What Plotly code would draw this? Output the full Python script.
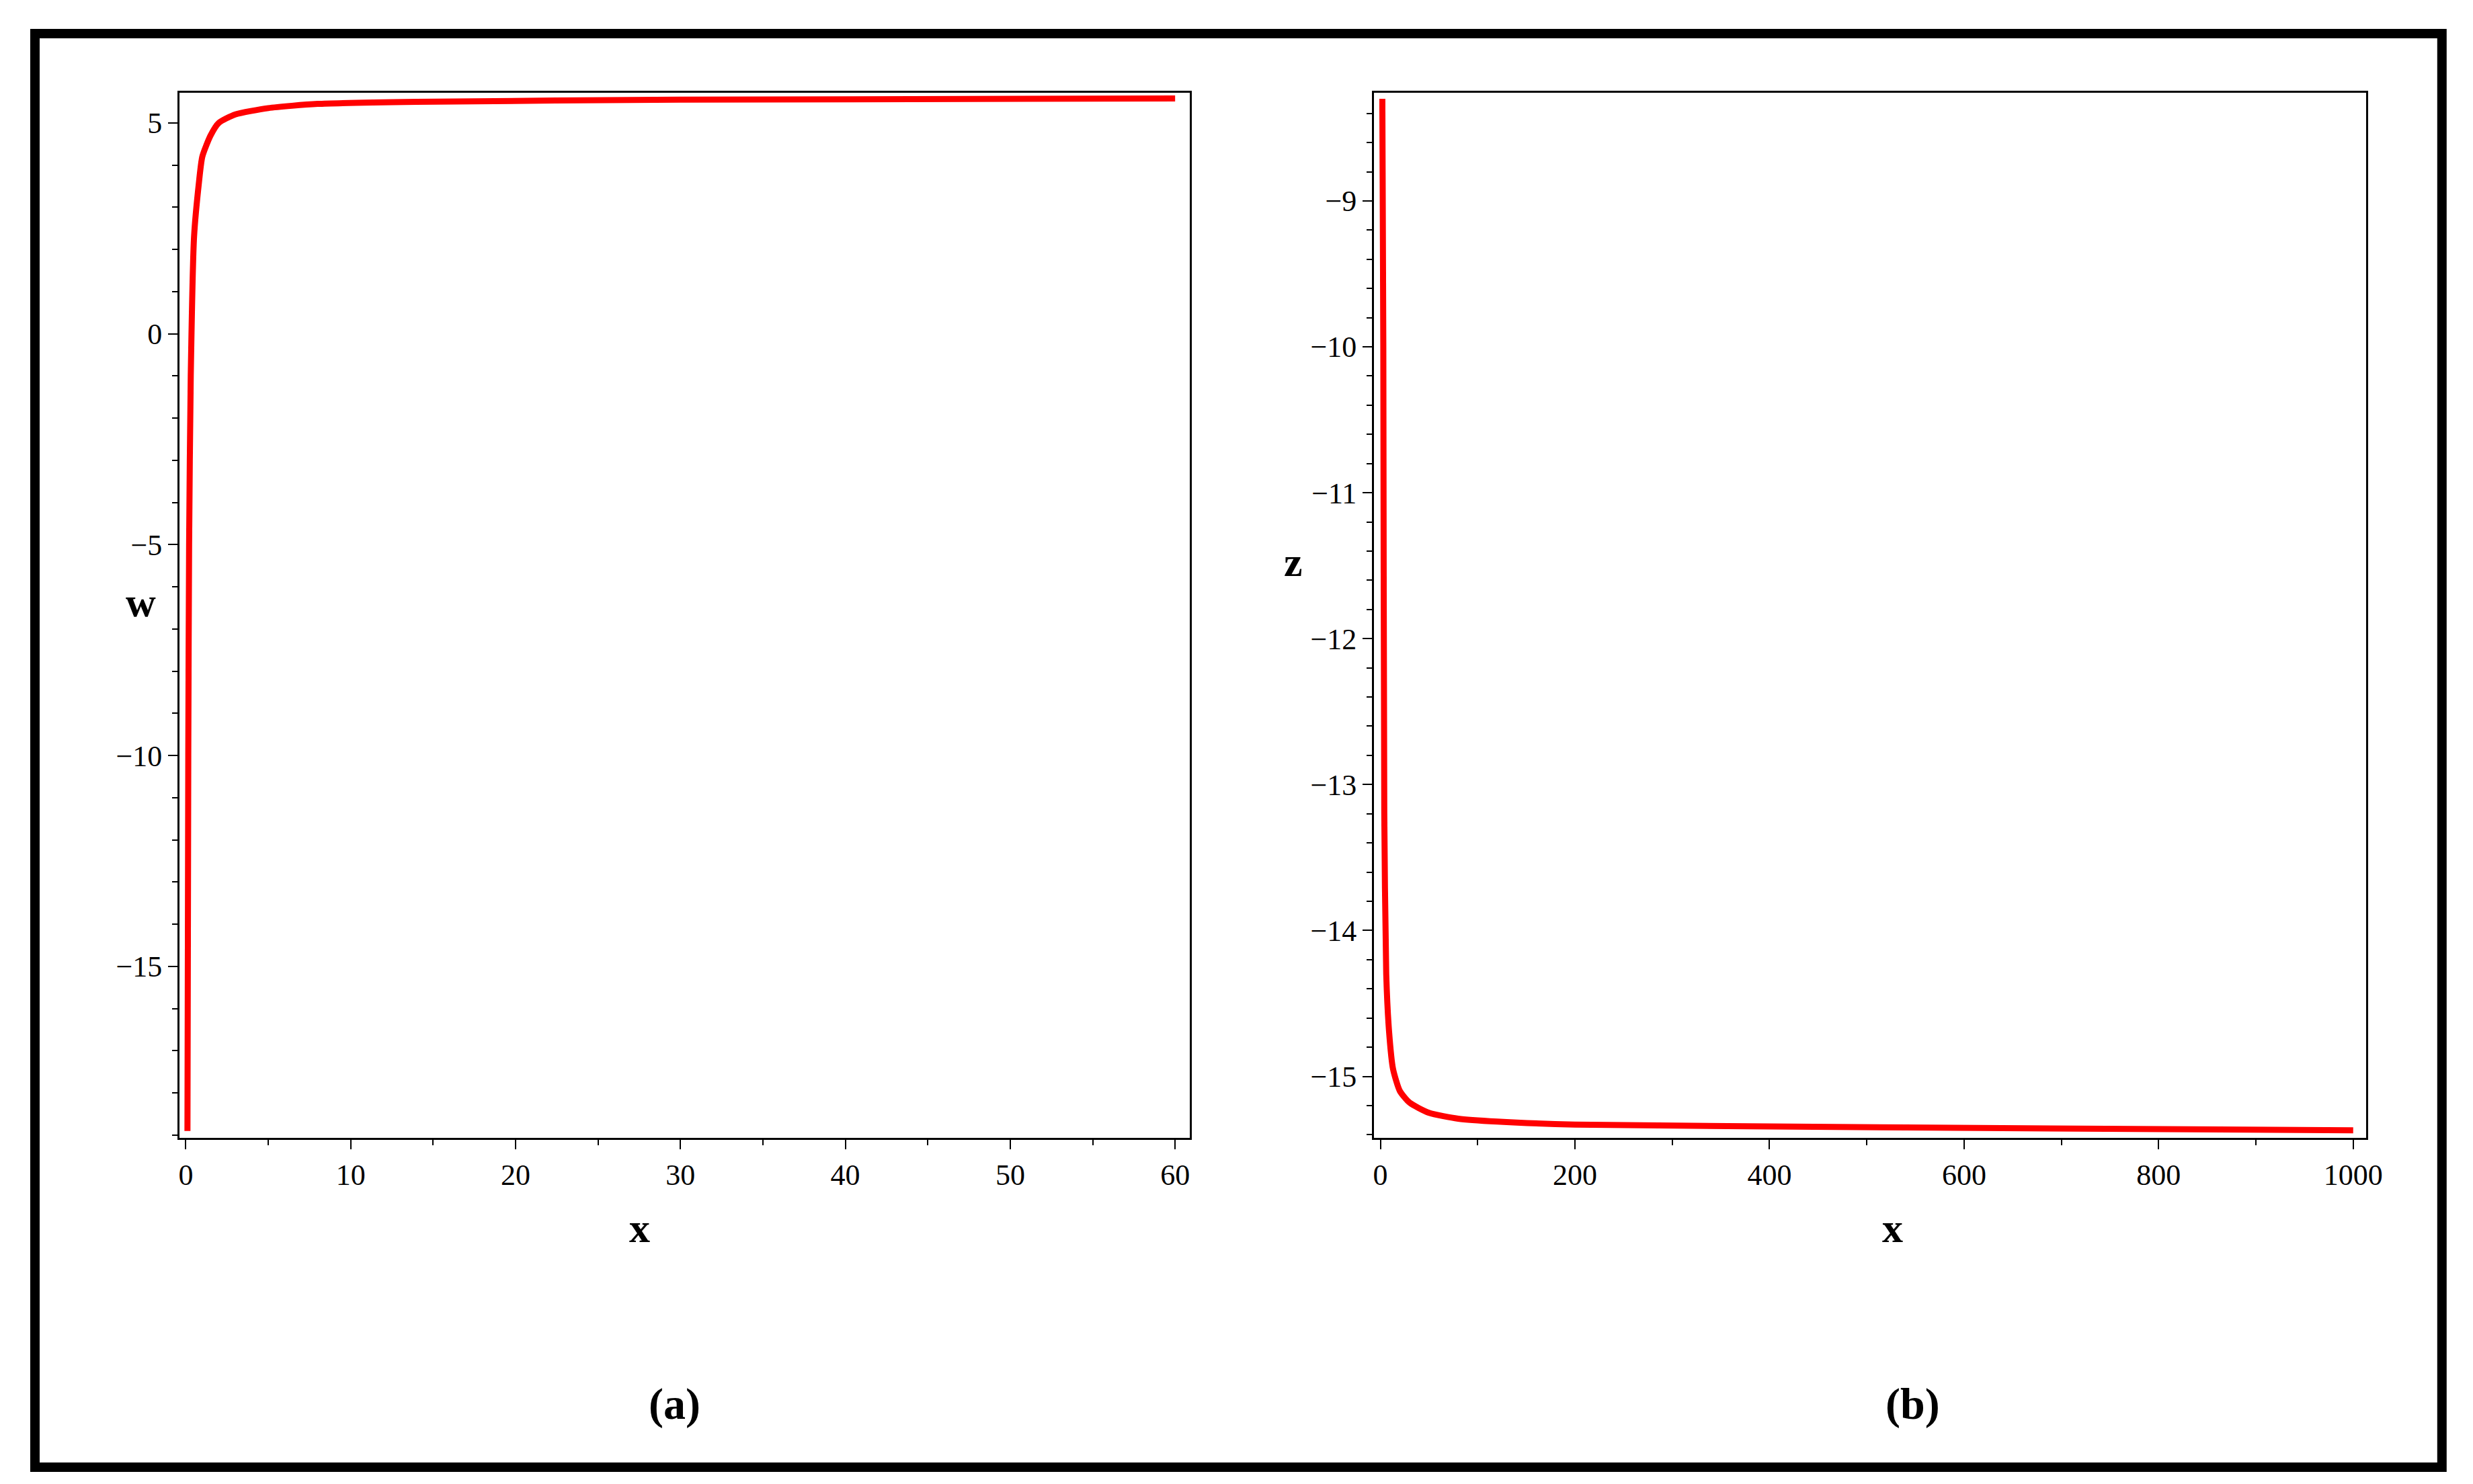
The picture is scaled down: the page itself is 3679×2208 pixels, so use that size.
import plotly.graph_objects as go

xa = [0.1, 0.15, 0.2, 0.3, 0.5, 0.8, 1.0, 1.5, 2.0, 3.0, 5.0, 8.0, 14.0, 30.0, 60.0]
wa = [-18.9, -10.0, -5.0, -1.0, 2.3, 3.6, 4.2, 4.7, 5.0, 5.2, 5.35, 5.45, 5.5, 5.55, 5.58]
xb = [2, 3, 4, 6, 9, 13, 20, 30, 50, 80, 120, 200, 540, 1000]
zb = [-8.3, -10.0, -13.2, -14.3, -14.7, -14.95, -15.1, -15.18, -15.25, -15.29, -15.31, -15.33, -15.35, -15.37]

F = "Liberation Serif"
fig = go.Figure()
fig.add_trace(go.Scatter(x=xa, y=wa, mode="lines", line=dict(color="#ff0000", width=9, shape="spline", smoothing=0.6), xaxis="x", yaxis="y"))
fig.add_trace(go.Scatter(x=xb, y=zb, mode="lines", line=dict(color="#ff0000", width=9, shape="spline", smoothing=0.6), xaxis="x2", yaxis="y2"))

ax = dict(showgrid=False, zeroline=False, showline=True, linecolor="black", linewidth=3, mirror=True,
          ticks="outside", ticklen=14, tickwidth=2, tickcolor="black",
          tickfont=dict(family=F, size=44, color="black"))
fig.update_layout(
    width=3679, height=2208, margin=dict(l=0, r=0, t=0, b=0),
    paper_bgcolor="white", plot_bgcolor="white", showlegend=False,
    xaxis=dict(ax, domain=[0.0704, 0.482], range=[-0.38, 60.9], dtick=10,
               minor=dict(dtick=5, ticks="outside", ticklen=8, tickcolor="black"), anchor="y"),
    yaxis=dict(ax, domain=[0.237, 0.941], range=[-19.06, 5.71], dtick=5,
               minor=dict(dtick=1, ticks="outside", ticklen=8, tickcolor="black"), anchor="x"),
    xaxis2=dict(ax, domain=[0.557, 0.961], range=[-6.5, 1013], dtick=200,
                minor=dict(dtick=100, ticks="outside", ticklen=8, tickcolor="black"), anchor="y2"),
    yaxis2=dict(ax, domain=[0.237, 0.941], range=[-15.42, -8.26], dtick=1,
                minor=dict(dtick=0.2, ticks="outside", ticklen=8, tickcolor="black"), anchor="x2"),
    shapes=[dict(type="rect", xref="paper", yref="paper", x0=0.0115, x1=0.992, y0=0.015, y1=0.981,
                 line=dict(color="black", width=14))],
)
def lab(t, x, y, s=62):
    fig.add_annotation(text="<b>%s</b>" % t, x=x, y=y, xref="paper", yref="paper", showarrow=False,
                       font=dict(family=F, size=s, color="black"))
lab("w", 0.048, 0.598)
lab("z", 0.524, 0.625)
lab("x", 0.253, 0.16)
lab("x", 0.773, 0.16)
lab("(a)", 0.261, 0.04, 66)
lab("(b)", 0.788, 0.04, 66)
fig.write_html("out.html")
